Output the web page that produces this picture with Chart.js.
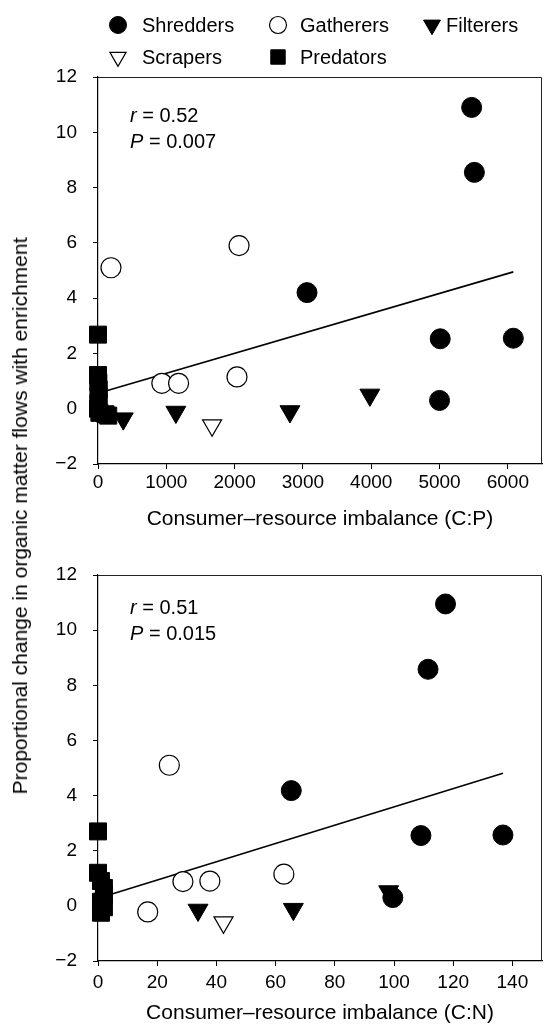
<!DOCTYPE html>
<html>
<head>
<meta charset="utf-8">
<script src="https://cdn.jsdelivr.net/npm/chart.js@4.4.1/dist/chart.umd.min.js"></script>
<style>
  html, body { margin: 0; padding: 0; background: #fff; }
  #wrap { position: relative; width: 555px; height: 1028px; overflow: hidden; }
  #cpBox { position: absolute; left: 0; top: 0; width: 555px; height: 532px; }
  #cnBox { position: absolute; left: 0; top: 532px; width: 555px; height: 496px; }
  #yTitle {
    position: absolute; left: 20px; top: 516px;
    transform: translate(-50%, -50%) rotate(-90deg);
    white-space: nowrap; color: #000;
    font: 21px 'Liberation Sans', Arial, sans-serif;
  }
</style>
</head>
<body>
<div id="wrap">
  <div id="cpBox"><canvas id="cpChart"></canvas></div>
  <div id="cnBox"><canvas id="cnChart"></canvas></div>
  <div id="yTitle">Proportional change in organic matter flows with enrichment</div>
</div>
<script>
// --- Data ---
const groups = ['Shredders', 'Gatherers', 'Filterers', 'Scrapers', 'Predators'];

// panel 1: consumer-resource imbalance C:P  [x, y]
const cpShredders = [[5470, 10.9], [5510, 8.55], [3060, 4.2], [5010, 2.53], [6080, 2.55], [5000, 0.3]];
const cpGatherers = [[190, 5.1], [2065, 5.9], [935, 0.92], [1180, 0.92], [2035, 1.15]];
const cpFilterers = [[3980, 0.5], [2810, -0.1], [1140, -0.12], [370, -0.36]];
const cpScrapers = [[1670, -0.6]];
const cpPredators = [[0, 2.68], [0, 1.22], [5, 0.95], [10, 0.7], [10, 0.45], [5, 0.2], [0, 0], [20, -0.15], [110, -0.2], [150, -0.25]];
const cpFit = [[100, 0.63], [6080, 4.95]];
const cpStats = ['0.52', '0.007'];
const cpXTicks = [0, 1000, 2000, 3000, 4000, 5000, 6000];

// panel 2: consumer-resource imbalance C:N
const cnShredders = [[117.4, 10.95], [111.5, 8.58], [109.1, 2.55], [136.8, 2.57], [99.6, 0.3], [65.3, 4.18]];
const cnGatherers = [[24.1, 5.1], [28.7, 0.88], [37.8, 0.9], [62.8, 1.15], [16.8, -0.22]];
const cnFilterers = [[33.8, -0.15], [66, -0.12], [98.2, 0.52]];
const cnScrapers = [[42.4, -0.6]];
const cnPredators = [[0, 2.7], [0, 1.2], [1, 0.9], [2, 0.65], [2, 0.4], [1, 0.15], [2, -0.05], [1, -0.25]];
const cnFit = [[2, 0.34], [136.8, 4.81]];
const cnStats = ['0.51', '0.015'];
const cnXTicks = [0, 20, 40, 60, 80, 100, 120, 140];

const yTicks = [-2, 0, 2, 4, 6, 8, 10, 12];

// --- Styles ---
const FONT = "'Liberation Sans', Arial, Helvetica, sans-serif";
const markerStyles = {
  Shredders: { pointStyle: 'circle', radius: 10, rotation: 0, backgroundColor: '#000', borderColor: '#000', borderWidth: 1 },
  Gatherers: { pointStyle: 'circle', radius: 10, rotation: 0, backgroundColor: '#fff', borderColor: '#000', borderWidth: 1.2 },
  Filterers: { pointStyle: 'triangle', radius: 11.5, rotation: 180, backgroundColor: '#000', borderColor: '#000', borderWidth: 1 },
  Scrapers: { pointStyle: 'triangle', radius: 11, rotation: 180, backgroundColor: '#fff', borderColor: '#000', borderWidth: 1.2 },
  Predators: { pointStyle: 'rect', radius: 12, rotation: 0, backgroundColor: '#000', borderColor: '#000', borderWidth: 1 }
};

const toXY = arr => arr.map(p => ({ x: p[0], y: p[1] }));
const minus = v => v < 0 ? '\u2212' + Math.abs(v) : String(v);

// outer frame (top + right edges)
const framePlugin = {
  id: 'frame',
  afterDraw(chart) {
    const { ctx, chartArea: a } = chart;
    ctx.save();
    ctx.strokeStyle = '#222';
    ctx.lineWidth = 1;
    ctx.beginPath();
    ctx.moveTo(a.left, a.top + 0.5);
    ctx.lineTo(a.right - 0.5, a.top + 0.5);
    ctx.lineTo(a.right - 0.5, a.bottom);
    ctx.stroke();
    ctx.restore();
  }
};

// r / P annotation
const statsPlugin = {
  id: 'stats',
  afterDraw(chart, args, o) {
    const { ctx } = chart;
    ctx.save();
    ctx.fillStyle = '#000';
    ctx.textBaseline = 'alphabetic';
    const rows = [['r', ' = ' + o.r], ['P', ' = ' + o.p]];
    rows.forEach((row, i) => {
      const y = o.y + i * 26;
      ctx.font = 'italic 20px ' + FONT;
      ctx.fillText(row[0], o.x, y);
      const w = ctx.measureText(row[0]).width;
      ctx.font = '20px ' + FONT;
      ctx.fillText(row[1], o.x + w, y);
    });
    ctx.restore();
  }
};

// legend at the top, 3 + 2 grid
const legendPlugin = {
  id: 'topLegend',
  afterDraw(chart) {
    const { ctx } = chart;
    const items = [
      ['Shredders', 118, 25, 142], ['Gatherers', 278, 25, 300], ['Filterers', 432, 25, 446],
      ['Scrapers', 118, 57, 142], ['Predators', 278, 57, 300]
    ];
    ctx.save();
    items.forEach(([name, mx, my, tx]) => {
      const s = markerStyles[name];
      ctx.fillStyle = s.backgroundColor;
      ctx.strokeStyle = s.borderColor;
      ctx.lineWidth = s.borderWidth;
      Chart.helpers.drawPoint(ctx, { pointStyle: s.pointStyle, rotation: s.rotation, radius: s.radius * 0.85, borderWidth: s.borderWidth }, mx, my);
      ctx.fillStyle = '#000';
      ctx.font = '20px ' + FONT;
      ctx.textBaseline = 'middle';
      ctx.fillText(name, tx, my + 1);
    });
    ctx.restore();
  }
};

// drop the extra room Chart.js keeps for the last tick label
function noOverhang(s) {
  s.paddingLeft = 0;
  s.paddingRight = 0;
  if (s._margins) { s._margins.left = 0; s._margins.right = 0; }
}

function makePanel(id, d) {
  const sets = [d.shredders, d.gatherers, d.filterers, d.scrapers, d.predators];
  const datasets = groups.map((g, i) => {
    const s = markerStyles[g];
    return {
      label: g,
      data: toXY(sets[i]),
      pointStyle: s.pointStyle,
      pointRadius: s.radius,
      pointRotation: s.rotation,
      pointBackgroundColor: s.backgroundColor,
      pointBorderColor: s.borderColor,
      pointBorderWidth: s.borderWidth,
      clip: false
    };
  });
  datasets.push({
    label: 'fit',
    data: toXY(d.fit),
    showLine: true,
    borderColor: '#000',
    borderWidth: 1.6,
    pointRadius: 0,
    clip: false
  });

  return new Chart(document.getElementById(id), {
    type: 'scatter',
    data: { datasets },
    options: {
      responsive: true,
      maintainAspectRatio: false,
      animation: false,
      events: [],
      layout: { padding: { top: d.padTop, right: -3, left: 0, bottom: 0 } },
      plugins: {
        legend: { display: false },
        tooltip: { enabled: false },
        stats: { r: d.stats[0], p: d.stats[1], x: 130, y: d.statsY }
      },
      scales: {
        x: {
          type: 'linear', min: d.xMin, max: d.xMax,
          afterFit: s => { s.height = d.xHeight; noOverhang(s); },
          afterBuildTicks: s => { s.ticks = d.xTicks.map(v => ({ value: v })); },
          border: { color: '#000', width: 1.2 },
          grid: { drawOnChartArea: false, drawTicks: true, tickLength: 5, tickColor: '#000' },
          ticks: { autoSkip: false, color: '#000', padding: d.xPad, maxRotation: 0,
                   font: { family: FONT, size: 19 }, callback: v => String(v) },
          title: { display: true, text: d.xTitle, color: '#000', font: { family: FONT, size: 21 }, padding: { top: 0, bottom: d.titlePad } }
        },
        y: {
          type: 'linear', min: -2, max: 12,
          afterFit: s => { s.width = 98; s.paddingTop = 0; s.paddingBottom = 0; },
          afterBuildTicks: s => { s.ticks = yTicks.map(v => ({ value: v })); },
          border: { color: '#000', width: 1.2 },
          grid: { drawOnChartArea: false, drawTicks: true, tickLength: 5, tickColor: '#000' },
          ticks: { color: '#000', padding: 16, font: { family: FONT, size: 19 }, callback: v => minus(v) }
        }
      }
    },
    plugins: d.extra ? [framePlugin, statsPlugin, legendPlugin] : [framePlugin, statsPlugin]
  });
}

makePanel('cpChart', {
  shredders: cpShredders, gatherers: cpGatherers, filterers: cpFilterers, scrapers: cpScrapers, predators: cpPredators,
  fit: cpFit, stats: cpStats, statsY: 122, xTicks: cpXTicks,
  xMin: 0, xMax: 6500, xTitle: 'Consumer\u2013resource imbalance (C:P)',
  padTop: 77, xHeight: 68, xPad: 2, titlePad: 0, extra: true
});

makePanel('cnChart', {
  shredders: cnShredders, gatherers: cnGatherers, filterers: cnFilterers, scrapers: cnScrapers, predators: cnPredators,
  fit: cnFit, stats: cnStats, statsY: 82, xTicks: cnXTicks,
  xMin: 0, xMax: 150, xTitle: 'Consumer\u2013resource imbalance (C:N)',
  padTop: 43, xHeight: 67, xPad: 5, titlePad: 2, extra: false
});
</script>
</body>
</html>
